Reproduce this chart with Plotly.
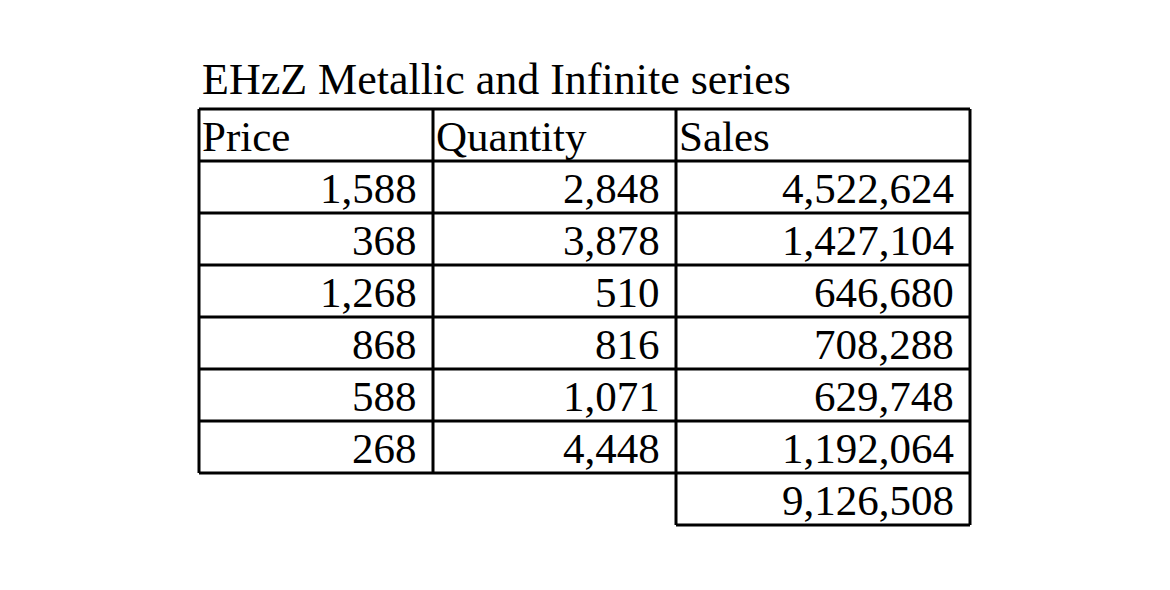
import plotly.graph_objects as go

title = "EHzZ Metallic and Infinite series"
headers = ["Price", "Quantity", "Sales"]
price = ["1,588", "368", "1,268", "868", "588", "268"]
quantity = ["2,848", "3,878", "510", "816", "1,071", "4,448"]
sales = ["4,522,624", "1,427,104", "646,680", "708,288", "629,748", "1,192,064"]
total = "9,126,508"

off = 8
colx = [199 - off, 433 - off, 676 - off, 970 - off]
top = 109 - off
rowh = 52
font = dict(family="Liberation Serif", size=43, color="black")

shapes, ann = [], []
nrows = 1 + len(price)
lw = 3
for i in range(nrows + 1):
    y = top + i * rowh
    shapes.append(dict(type="line", x0=colx[0], x1=colx[3], y0=y, y1=y, line=dict(color="black", width=lw)))
for x in colx:
    shapes.append(dict(type="line", x0=x, x1=x, y0=top, y1=top + nrows * rowh, line=dict(color="black", width=lw)))
yb = top + (nrows + 1) * rowh
shapes.append(dict(type="line", x0=colx[2], x1=colx[3], y0=yb, y1=yb, line=dict(color="black", width=lw)))
for x in colx[2:]:
    shapes.append(dict(type="line", x0=x, x1=x, y0=yb - rowh, y1=yb, line=dict(color="black", width=lw)))

ann.append(dict(x=colx[0] + 1, y=top - 3, text=title, xanchor="left", yanchor="bottom", showarrow=False, font=dict(family="Liberation Serif", size=44, color="black")))
for j, h in enumerate(headers):
    ann.append(dict(x=colx[j] + 1, y=top + rowh / 2 + 1, text=h, xanchor="left", yanchor="middle", showarrow=False, font=font))
cols = [price, quantity, sales]
for j, col in enumerate(cols):
    for i, v in enumerate(col):
        ann.append(dict(x=colx[j + 1] - 14, y=top + (i + 1.5) * rowh + 1, text=v, xanchor="right", yanchor="middle", showarrow=False, font=font))
ann.append(dict(x=colx[3] - 14, y=top + (nrows + 0.5) * rowh + 1, text=total, xanchor="right", yanchor="middle", showarrow=False, font=font))

fig = go.Figure()
fig.update_layout(width=1170, height=590, margin=dict(l=0, r=0, t=0, b=0),
                  paper_bgcolor="white", plot_bgcolor="white",
                  xaxis=dict(range=[0, 1170], visible=False, fixedrange=True),
                  yaxis=dict(range=[590, 0], visible=False, fixedrange=True),
                  shapes=shapes, annotations=ann, showlegend=False)
fig.write_html("out.html")
